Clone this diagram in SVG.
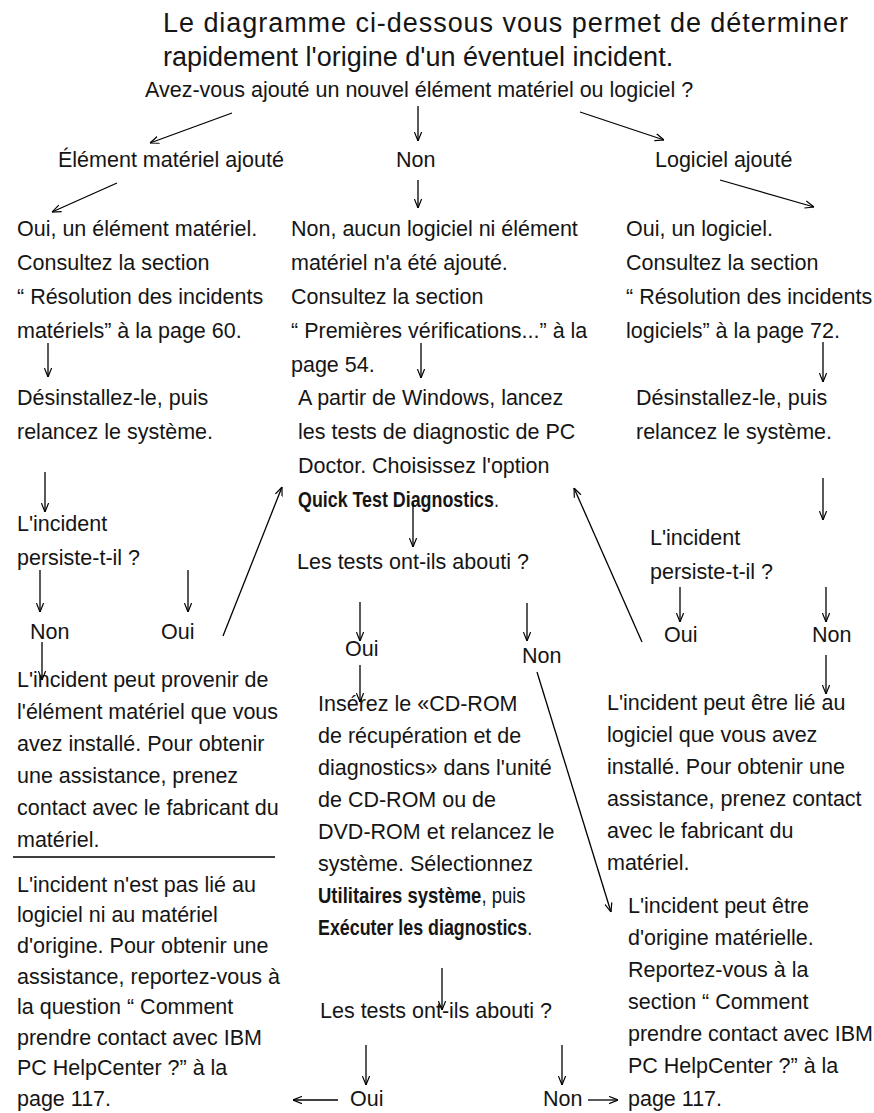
<svg xmlns="http://www.w3.org/2000/svg" width="874" height="1113" viewBox="0 0 874 1113">
<defs>
<marker id="ah" viewBox="0 0 10 10" refX="10" refY="5" markerWidth="9" markerHeight="9" markerUnits="userSpaceOnUse" orient="auto">
<path d="M0,1 L10,5 L0,9" fill="none" stroke="#000" stroke-width="1.3"/>
</marker>
</defs>
<style>
text{font-family:"Liberation Sans",Arial,sans-serif;font-size:21.5px;fill:#151515;}
.t{font-size:27px;}
.b{font-weight:bold;}
.c line{stroke:#000;stroke-width:1.3;marker-end:url(#ah);}
</style>
<rect width="874" height="1113" fill="#fff"/>
<g id="title">
<text class="t" x="163" y="32" textLength="685" lengthAdjust="spacing">Le diagramme ci-dessous vous permet de déterminer</text>
<text class="t" x="163" y="66">rapidement l'origine d'un éventuel incident.</text>
</g>
<g id="q1"><text x="145" y="97">Avez-vous ajouté un nouvel élément matériel ou logiciel ?</text></g>
<g id="l-hw"><text x="58" y="167">Élément matériel ajouté</text></g>
<g id="l-non"><text x="396" y="167">Non</text></g>
<g id="l-sw"><text x="655" y="167">Logiciel ajouté</text></g>
<g id="hw1">
<text x="17" y="236">Oui, un élément matériel.</text>
<text x="17" y="270">Consultez la section</text>
<text x="17" y="304">“ Résolution des incidents</text>
<text x="17" y="338">matériels” à la page 60.</text>
</g>
<g id="none1">
<text x="291" y="236">Non, aucun logiciel ni élément</text>
<text x="291" y="270">matériel n'a été ajouté.</text>
<text x="291" y="304">Consultez la section</text>
<text x="291" y="338">“ Premières vérifications...” à la</text>
<text x="291" y="372">page 54.</text>
</g>
<g id="sw1">
<text x="626" y="236">Oui, un logiciel.</text>
<text x="626" y="270">Consultez la section</text>
<text x="626" y="304">“ Résolution des incidents</text>
<text x="626" y="338">logiciels” à la page 72.</text>
</g>
<g id="hw2">
<text x="17" y="405">Désinstallez-le, puis</text>
<text x="17" y="439">relancez le système.</text>
</g>
<g id="pcdoc">
<text x="298" y="405">A partir de Windows, lancez</text>
<text x="298" y="439">les tests de diagnostic de PC</text>
<text x="298" y="473">Doctor. Choisissez l'option</text>
<text transform="translate(298,507) scale(0.83,1)"><tspan class="b">Quick Test Diagnostics</tspan>.</text>
</g>
<g id="sw2">
<text x="636" y="405">Désinstallez-le, puis</text>
<text x="636" y="439">relancez le système.</text>
</g>
<g id="hw3">
<text x="17" y="531">L'incident</text>
<text x="17" y="565">persiste-t-il ?</text>
</g>
<g id="tests1"><text x="297" y="569">Les tests ont-ils abouti ?</text></g>
<g id="sw3">
<text x="650" y="545">L'incident</text>
<text x="650" y="579">persiste-t-il ?</text>
</g>
<g id="hw-non"><text x="30" y="639">Non</text></g>
<g id="hw-oui"><text x="161" y="639">Oui</text></g>
<g id="t1-oui"><text x="345" y="656">Oui</text></g>
<g id="t1-non"><text x="522" y="663">Non</text></g>
<g id="sw-oui"><text x="664" y="642">Oui</text></g>
<g id="sw-non"><text x="812" y="642">Non</text></g>
<g id="hw4">
<text x="17" y="687">L'incident peut provenir de</text>
<text x="17" y="719">l'élément matériel que vous</text>
<text x="17" y="751">avez installé. Pour obtenir</text>
<text x="17" y="783">une assistance, prenez</text>
<text x="17" y="815">contact avec le fabricant du</text>
<text x="17" y="847">matériel.</text>
<line x1="13" y1="857" x2="275" y2="857" stroke="#000" stroke-width="1.6"/>
</g>
<g id="ok">
<text x="17" y="892">L'incident n'est pas lié au</text>
<text x="17" y="922">logiciel ni au matériel</text>
<text x="17" y="953">d'origine. Pour obtenir une</text>
<text x="17" y="984">assistance, reportez-vous à</text>
<text x="17" y="1014">la question “ Comment</text>
<text x="17" y="1045">prendre contact avec IBM</text>
<text x="17" y="1075">PC HelpCenter ?” à la</text>
<text x="17" y="1106">page 117.</text>
</g>
<g id="cdrom">
<text x="318" y="711">Insérez le «CD-ROM</text>
<text x="318" y="743">de récupération et de</text>
<text x="318" y="775">diagnostics» dans l'unité</text>
<text x="318" y="807">de CD-ROM ou de</text>
<text x="318" y="839">DVD-ROM et relancez le</text>
<text x="318" y="871">système. Sélectionnez</text>
<text transform="translate(318,903) scale(0.86,1)"><tspan class="b">Utilitaires système</tspan>, puis</text>
<text transform="translate(318,935) scale(0.83,1)"><tspan class="b">Exécuter les diagnostics</tspan>.</text>
</g>
<g id="sw4">
<text x="607" y="710">L'incident peut être lié au</text>
<text x="607" y="742">logiciel que vous avez</text>
<text x="607" y="774">installé. Pour obtenir une</text>
<text x="607" y="806">assistance, prenez contact</text>
<text x="607" y="838">avec le fabricant du</text>
<text x="607" y="870">matériel.</text>
</g>
<g id="hwfail">
<text x="628" y="913">L'incident peut être</text>
<text x="628" y="945">d'origine matérielle.</text>
<text x="628" y="977">Reportez-vous à la</text>
<text x="628" y="1009">section “ Comment</text>
<text x="628" y="1041">prendre contact avec IBM</text>
<text x="628" y="1073">PC HelpCenter ?” à la</text>
<text x="628" y="1106">page 117.</text>
</g>
<g id="tests2"><text x="320" y="1018">Les tests ont-ils abouti ?</text></g>
<g id="t2-oui"><text x="350" y="1106">Oui</text></g>
<g id="t2-non"><text x="543" y="1106">Non</text></g>
<g class="c" id="connectors">
<line x1="232" y1="113" x2="150" y2="143"/>
<line x1="418" y1="106" x2="418" y2="141"/>
<line x1="580" y1="112" x2="664" y2="140"/>
<line x1="117" y1="183" x2="52" y2="212"/>
<line x1="418" y1="180" x2="418" y2="208"/>
<line x1="720" y1="180" x2="814" y2="207"/>
<line x1="48" y1="343" x2="48" y2="377"/>
<line x1="421" y1="343" x2="421" y2="378"/>
<line x1="823" y1="342" x2="823" y2="382"/>
<line x1="45" y1="472" x2="45" y2="512"/>
<line x1="413" y1="503" x2="413" y2="547"/>
<line x1="223" y1="636" x2="282" y2="487"/>
<line x1="642" y1="642" x2="574" y2="488"/>
<line x1="823" y1="478" x2="823" y2="520"/>
<line x1="40" y1="570" x2="40" y2="612"/>
<line x1="188" y1="570" x2="188" y2="612"/>
<line x1="360" y1="602" x2="360" y2="641"/>
<line x1="527" y1="603" x2="527" y2="641"/>
<line x1="680" y1="587" x2="680" y2="622"/>
<line x1="826" y1="587" x2="826" y2="622"/>
<line x1="42" y1="642" x2="42" y2="680"/>
<line x1="360" y1="665" x2="360" y2="702"/>
<line x1="537" y1="672" x2="611" y2="912"/>
<line x1="826" y1="655" x2="826" y2="694"/>
<line x1="442" y1="968" x2="442" y2="1010"/>
<line x1="366" y1="1045" x2="366" y2="1085"/>
<line x1="562" y1="1045" x2="562" y2="1085"/>
<line x1="338" y1="1100" x2="293" y2="1100"/>
<line x1="588" y1="1100" x2="618" y2="1100"/>
</g>
</svg>
